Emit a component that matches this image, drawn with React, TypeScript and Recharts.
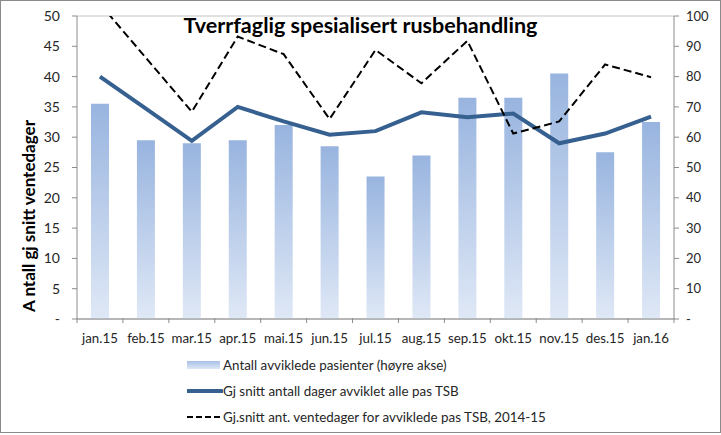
import React from 'react';
import { ComposedChart, Bar, Line, XAxis, YAxis, CartesianGrid, Legend } from 'recharts';

const months = ['jan.15', 'feb.15', 'mar.15', 'apr.15', 'mai.15', 'jun.15', 'jul.15', 'aug.15', 'sep.15', 'okt.15', 'nov.15', 'des.15', 'jan.16'];
const patients = [71, 59, 58, 59, 64, 57, 47, 54, 73, 73, 81, 55, 65];
const avgDays = [40, 34.7, 29.4, 35, 32.6, 30.4, 31, 34.1, 33.3, 33.9, 29, 30.6, 33.4];
const waitDays = [52, 43.1, 34.2, 46.6, 43.7, 33, 44.4, 38.9, 45.9, 30.6, 32.6, 42, 39.9];
const leftTicks = [0, 5, 10, 15, 20, 25, 30, 35, 40, 45, 50];
const rightTicks = [0, 10, 20, 30, 40, 50, 60, 70, 80, 90, 100];

const seriesNames = {
  patients: 'Antall avviklede pasienter (høyre akse)',
  avgDays: 'Gj snitt antall dager avviklet alle pas TSB',
  waitDays: 'Gj.snitt ant. ventedager for avviklede pas TSB, 2014-15',
};

const data = months.map((m, i) => ({
  month: m,
  patients: patients[i],
  avgDays: avgDays[i],
  waitDays: waitDays[i],
}));

const W = 721;
const H = 435;
const LEFT_W = 77;
const RIGHT_W = 47;
const FONT = 'Lato, "Open Sans", sans-serif';
const TEXT = '#262626';
const AXIS = '#8c8c8c';
const GRID = '#c4c4c4';
const BAND_HALF = (W - LEFT_W - RIGHT_W) / months.length / 2;

const XTick = (props: any) => {
  const { x, y, payload, index } = props;
  const top = y - 9;
  return (
    <g>
      <line x1={x - BAND_HALF} x2={x - BAND_HALF} y1={top} y2={top + 5} stroke={AXIS} />
      {index === months.length - 1 && (
        <line x1={x + BAND_HALF} x2={x + BAND_HALF} y1={top} y2={top + 5} stroke={AXIS} />
      )}
      <text x={x} y={y + 16} textAnchor="middle" fontSize={13.3} fill={TEXT} fontFamily={FONT}>
        {payload.value}
      </text>
    </g>
  );
};

const fmtLeft = (v: number) => (v === 0 ? '-' : String(v));

const LegendContent = () => (
  <div style={{ paddingLeft: 187, paddingTop: 3, fontFamily: FONT, fontSize: 13.4, color: TEXT }}>
    <div style={{ display: 'flex', alignItems: 'center', height: 26 }}>
      <div style={{ width: 33, height: 8, background: 'linear-gradient(#a9c1e6, #dde7f5)', marginRight: 3 }} />
      <span>{seriesNames.patients}</span>
    </div>
    <div style={{ display: 'flex', alignItems: 'center', height: 26 }}>
      <svg width={36} height={8}>
        <line x1={0} x2={35} y1={4} y2={4} stroke="#36608f" strokeWidth={4} strokeLinecap="round" />
      </svg>
      <span>{seriesNames.avgDays}</span>
    </div>
    <div style={{ display: 'flex', alignItems: 'center', height: 26 }}>
      <svg width={36} height={8}>
        <line x1={0} x2={34} y1={4} y2={4} stroke="#000" strokeWidth={2} strokeDasharray="6 3" />
      </svg>
      <span>{seriesNames.waitDays}</span>
    </div>
  </div>
);

export default function App() {
  return (
    <div style={{ position: 'absolute', left: 0, top: 0, width: W, height: H, background: '#fff', fontFamily: FONT }}>
      <ComposedChart width={W} height={H} data={data} margin={{ top: 16, right: 0, left: 0, bottom: 6 }}>
        <defs>
          <linearGradient id="barGrad" x1="0" y1="0" x2="0" y2="1">
            <stop offset="0%" stopColor="#98b4df" />
            <stop offset="100%" stopColor="#dfe8f6" />
          </linearGradient>
        </defs>
        <CartesianGrid vertical={false} stroke={GRID} />
        <XAxis
          dataKey="month"
          height={30}
          tickLine={false}
          axisLine={{ stroke: AXIS }}
          tick={<XTick />}
          interval={0}
        />
        <YAxis
          yAxisId="left"
          width={LEFT_W}
          domain={[0, 50]}
          ticks={leftTicks}
          allowDataOverflow
          tickFormatter={fmtLeft}
          tickSize={5}
          tickMargin={12}
          tickLine={{ stroke: AXIS }}
          axisLine={{ stroke: AXIS }}
          tick={{ fontSize: 14, fill: TEXT, fontFamily: FONT }}
        />
        <YAxis
          yAxisId="right"
          orientation="right"
          width={RIGHT_W}
          domain={[0, 100]}
          ticks={rightTicks}
          tickFormatter={fmtLeft}
          tickSize={5}
          tickMargin={7}
          tickLine={{ stroke: AXIS }}
          axisLine={{ stroke: AXIS }}
          tick={{ fontSize: 13, fill: TEXT, fontFamily: FONT, textAnchor: 'start' }}
        />
        <Legend verticalAlign="bottom" height={80} content={<LegendContent />} wrapperStyle={{ left: 0, width: W }} />
        <Bar yAxisId="right" dataKey="patients" name={seriesNames.patients} fill="url(#barGrad)" barSize={18} isAnimationActive={false} />
        <Line yAxisId="left" dataKey="avgDays" name={seriesNames.avgDays} stroke="#36608f" strokeWidth={4} dot={false} type="linear" isAnimationActive={false} />
        <Line yAxisId="left" dataKey="waitDays" name={seriesNames.waitDays} stroke="#000" strokeWidth={2} strokeDasharray="8 4" dot={false} type="linear" isAnimationActive={false} />
      </ComposedChart>
      <div style={{ position: 'absolute', left: 0, top: 12, width: W, textAlign: 'center', fontSize: 21.5, fontWeight: 700, lineHeight: '26px', color: '#000', pointerEvents: 'none' }}>
        Tverrfaglig spesialisert rusbehandling
      </div>
      <div style={{ position: 'absolute', left: 28, top: 216, transform: 'translate(-50%, -50%) rotate(-90deg)', whiteSpace: 'nowrap', fontSize: 17, fontWeight: 700, color: '#000' }}>
        A ntall gj snitt ventedager
      </div>
      <div style={{ position: 'absolute', left: 0, top: 0, width: W - 2, height: 431, border: '1px solid #8a8a8a', pointerEvents: 'none' }} />
    </div>
  );
}
